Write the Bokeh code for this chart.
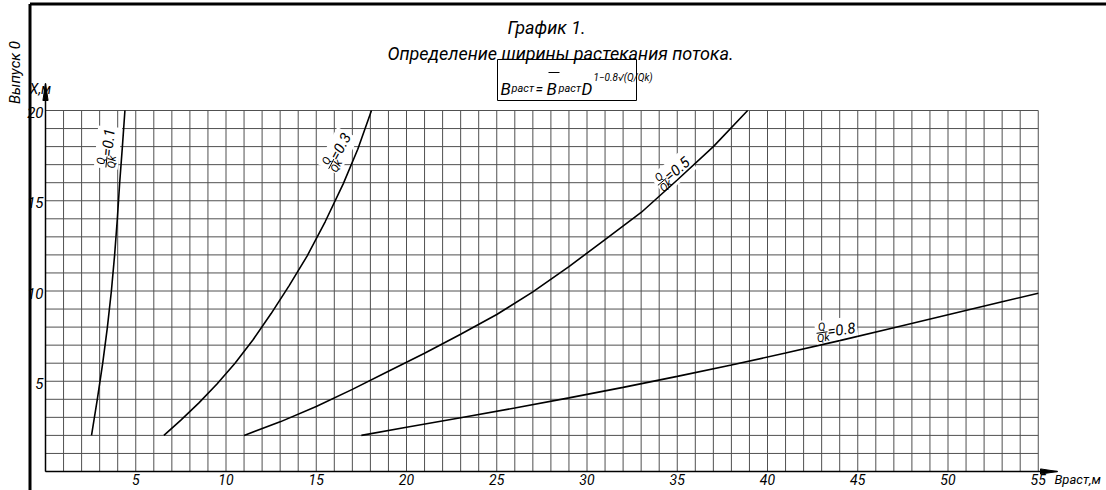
import math
from bokeh.plotting import figure
from bokeh.models import Range1d
from bokeh.core.properties import value
from bokeh.embed import file_html
from bokeh.resources import INLINE

# ---------------- data ----------------
ratio_labels = ["0.1", "0.3", "0.5", "0.8"]

x_q01 = [2.55, 2.87, 3.17, 3.43, 3.65, 3.83, 3.98, 4.11, 4.26, 4.40]
y_q01 = [2.0, 4.0, 6.0, 8.0, 10.0, 12.0, 14.0, 16.0, 18.0, 20.0]

x_q03 = [6.56, 7.5, 8.5, 9.5, 10.5, 11.5, 12.5, 13.5, 14.5, 15.5, 16.5, 17.3, 18.06]
y_q03 = [2.0, 2.85, 3.8, 4.85, 6.0, 7.3, 8.75, 10.3, 11.95, 13.85, 15.95, 17.85, 20.0]

x_q05 = [11.0, 13.0, 15.0, 17.0, 19.0, 21.0, 23.0, 25.0, 27.0, 29.0, 31.0, 33.0, 35.0, 37.0, 38.9]
y_q05 = [2.0, 2.75, 3.6, 4.55, 5.55, 6.55, 7.6, 8.7, 9.95, 11.35, 12.85, 14.35, 16.15, 18.0, 20.0]

x_q08 = [17.5, 20.0, 23.0, 26.0, 29.0, 32.0, 35.0, 38.0, 41.0, 44.0, 47.0, 50.0, 53.0, 55.0]
y_q08 = [2.0, 2.45, 2.98, 3.52, 4.08, 4.66, 5.27, 5.9, 6.56, 7.25, 7.96, 8.68, 9.4, 9.88]

x_tick_values = [5, 10, 15, 20, 25, 30, 35, 40, 45, 50, 55]
y_tick_values = [5, 10, 15, 20]
x_max, y_max = 55, 20

title_text = "График 1."
subtitle_text = "Определение ширины растекания потока."
formula_pieces = ["В", "раст", "=", "В", "раст", "D"]
formula_sup = "1\u22120.8\u221a(Q/Qk)"
y_axis_label = "X,м"
x_axis_label = "Враст,м"
side_label = "Выпуск 0"

# ---------------- layout ----------------
W, H = 1106, 490
S = 18.05            # pixels per data unit (both axes)
OX, OY = 45, 471     # canvas pixel of data origin


def pg(px, py):
    """canvas pixel -> data coords"""
    return (px - OX) / S, (OY - py) / S


x_lo = pg(0, 0)[0]
x_hi = pg(W, 0)[0]
y_hi = pg(0, 0)[1]
y_lo = pg(0, H)[1]

p = figure(width=W, height=H, x_range=Range1d(x_lo, x_hi), y_range=Range1d(y_lo, y_hi),
           min_border=0, x_axis_location=None, y_axis_location=None,
           toolbar_location=None, output_backend="svg")
p.outline_line_color = None
p.grid.visible = False
p.background_fill_color = "white"
p.border_fill_color = "white"

FONT = value("Roboto")
GRID_C = "#505050"

# grid
gx = list(range(0, x_max + 1))
gy = list(range(0, y_max + 1))
p.segment(x0=gx, y0=[0] * len(gx), x1=gx, y1=[y_max] * len(gx), line_color=GRID_C, line_width=1)
p.segment(x0=[0] * len(gy), y0=gy, x1=[x_max] * len(gy), y1=gy, line_color=GRID_C, line_width=1)

# axes with arrows
y_tip = pg(0, 83)[1]
x_tip = pg(1057, 0)[0]
p.line([0, 0], [0, y_tip], line_color="black", line_width=1.5)
p.line([0, x_tip], [0, 0], line_color="black", line_width=1.5)
hl, hw = 17 / S, 2.6 / S
p.patch([0, -hw, hw], [y_tip, y_tip - hl, y_tip - hl], color="black")
p.patch([x_tip, x_tip - hl, x_tip - hl], [0, hw, -hw], color="black")

# drawing frame (thick lines)
lx = pg(29.5, 0)[0]
ty = pg(0, 3.5)[1]
p.line([lx, lx], [y_lo, ty], line_color="black", line_width=3)
p.line([lx, x_hi], [ty, ty], line_color="black", line_width=3)

ITAL = dict(text_font=FONT, text_font_style="italic", text_color="black")

# tick labels
p.text(x=x_tick_values, y=[pg(0, 479)[1]] * len(x_tick_values), text=[str(v) for v in x_tick_values],
       text_font_size="14px", text_align="center", text_baseline="middle", **ITAL)
p.text(x=[pg(43, 0)[0]] * len(y_tick_values), y=[v - 2 / S for v in y_tick_values],
       text=[str(v) for v in y_tick_values],
       text_font_size="15px", text_align="right", text_baseline="middle", **ITAL)

# axis names
ax_, ay_ = pg(40, 88)
p.text(x=[ax_], y=[ay_], text=[y_axis_label], text_font_size="14px",
       text_align="center", text_baseline="middle", **ITAL)
bx_, by_ = pg(1054, 479)
p.text(x=[bx_], y=[by_], text=[x_axis_label], text_font_size="13px",
       text_align="left", text_baseline="middle", **ITAL)
sx_, sy_ = pg(14, 72)
p.text(x=[sx_], y=[sy_], text=[side_label], angle=math.pi / 2, text_font_size="15px",
       text_align="center", text_baseline="middle", **ITAL)

# titles
tx_, ty_ = pg(546, 27)
p.text(x=[tx_], y=[ty_], text=[title_text], text_font_size="18px",
       text_align="center", text_baseline="alphabetic", **ITAL)
tx_, ty_ = pg(560, 53)
p.text(x=[tx_], y=[ty_], text=[subtitle_text], text_font_size="18px",
       text_align="center", text_baseline="alphabetic", **ITAL)

# formula box
bl, bt = pg(497, 59)
br, bb = pg(636, 100)
p.quad(left=[bl], right=[br], top=[bt], bottom=[bb], fill_color=None, line_color="black", line_width=1)
piece_px = [500, 511, 535, 546, 558, 581]
piece_size = ["17px", "11px", "14px", "17px", "11px", "17px"]
for t, px_, fs in zip(formula_pieces, piece_px, piece_size):
    fx, fy = pg(px_, 88)
    p.text(x=[fx], y=[fy], text=[t], text_font_size=fs, text_align="left",
           text_baseline="alphabetic", **ITAL)
# overline on the second B
o0 = pg(548, 72)
o1 = pg(559, 72)
p.line([o0[0], o1[0]], [o0[1], o1[1]], line_color="black", line_width=1)
fx, fy = pg(593, 77)
p.text(x=[fx], y=[fy], text=[formula_sup], text_font_size="10px", text_align="left",
       text_baseline="alphabetic", **ITAL)


# curve labels
def rot(ax, ay, th, u, v):
    t = math.radians(th)
    return ax + (u * math.cos(t) - v * math.sin(t)) / S, ay + (u * math.sin(t) + v * math.cos(t)) / S


label_anchor_px = [(106, 161), (331, 163), (662, 181), (822, 332)]
label_angle = [84, 62, 40, 8]

# white backgrounds first
for (apx, apy), th in zip(label_anchor_px, label_angle):
    ax, ay = pg(apx, apy)
    cx, cy = rot(ax, ay, th, 14, 0)
    p.rect(x=[cx], y=[cy], width=[42], height=[24], width_units="screen", height_units="screen",
           angle=math.radians(th), fill_color="white", line_color=None)

for xs, ys in [(x_q01, y_q01), (x_q03, y_q03), (x_q05, y_q05), (x_q08, y_q08)]:
    p.line(xs, ys, line_color="black", line_width=1.6)

for lab, (apx, apy), th in zip(ratio_labels, label_anchor_px, label_angle):
    ax, ay = pg(apx, apy)
    a = math.radians(th)
    nx, ny = rot(ax, ay, th, 0, 5.5)
    dx, dy = rot(ax, ay, th, 0, -5.5)
    b0x, b0y = rot(ax, ay, th, -6, 0)
    b1x, b1y = rot(ax, ay, th, 5, 0)
    ex, ey = rot(ax, ay, th, 5, 0)
    p.text(x=[nx], y=[ny], text=["Q"], angle=a, text_font_size="11px",
           text_align="center", text_baseline="middle", **ITAL)
    p.text(x=[dx], y=[dy], text=["Qk"], angle=a, text_font_size="11px",
           text_align="center", text_baseline="middle", **ITAL)
    p.line([b0x, b1x], [b0y, b1y], line_color="black", line_width=1)
    p.text(x=[ex], y=[ey], text=["=" + lab], angle=a, text_font_size="15px",
           text_align="left", text_baseline="middle", **ITAL)

open("out.html", "w").write(file_html(p, INLINE))
